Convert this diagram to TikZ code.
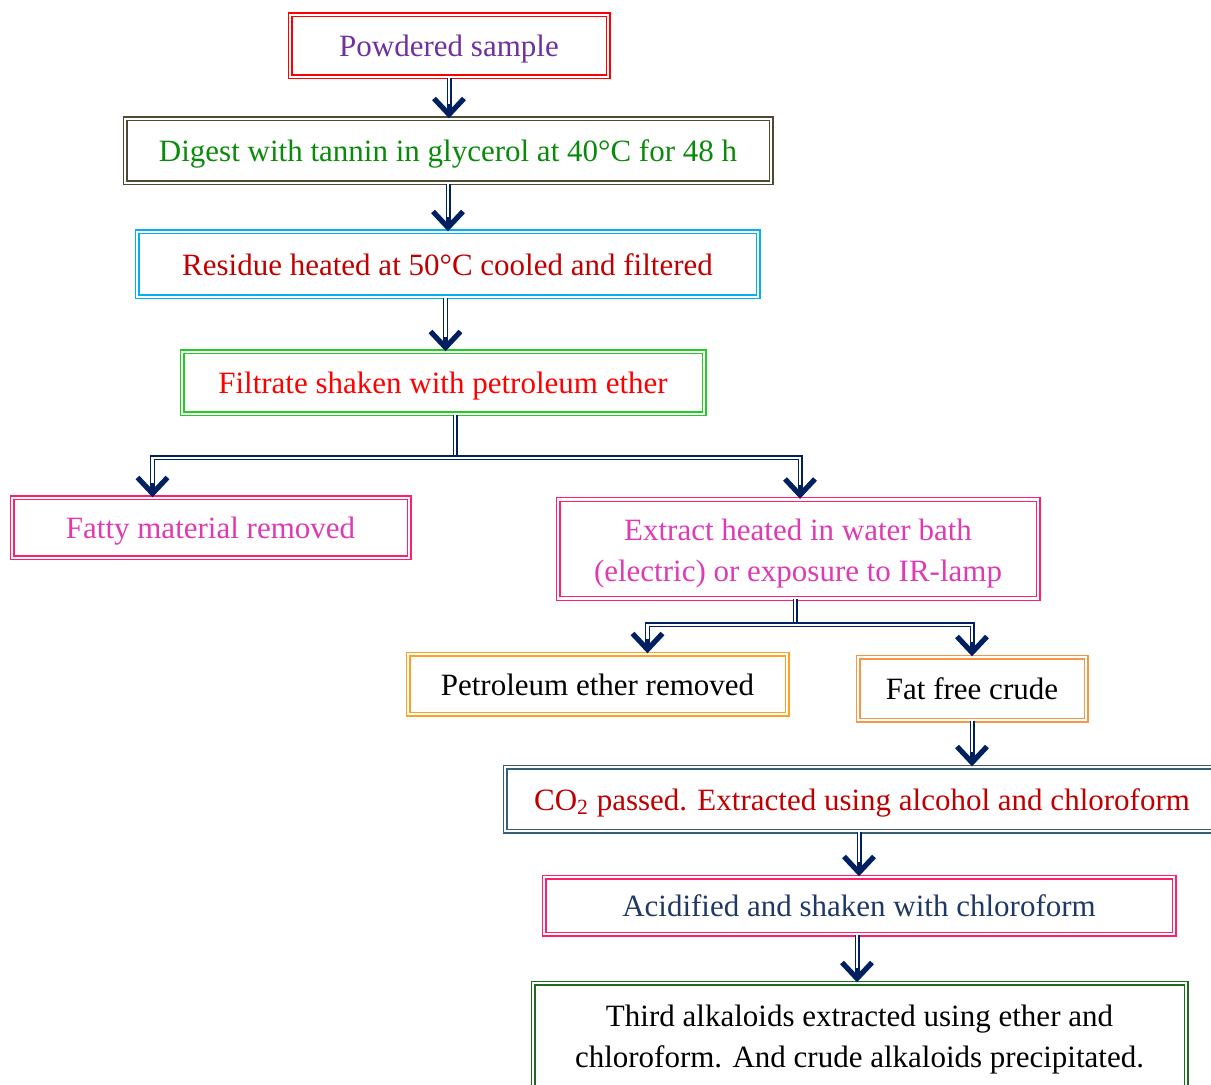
\documentclass[tikz,border=0pt]{standalone}
\usepackage{fontspec}
\setmainfont{Liberation Serif}
\usetikzlibrary{arrows.meta, positioning, calc}

\definecolor{arrowblue}{HTML}{002060}
\definecolor{txtpurple}{HTML}{7030A0}
\definecolor{txtgreen}{HTML}{0A8A0A}
\definecolor{txtdarkred}{HTML}{C00000}
\definecolor{txtmagenta}{HTML}{DE3AB4}
\definecolor{txtnavy}{HTML}{1F3864}
\definecolor{lnolive}{HTML}{4F4A32}
\definecolor{lnsky}{HTML}{00B0F0}
\definecolor{lngreen}{HTML}{22CC22}
\definecolor{lnpink}{HTML}{FF1F6E}
\definecolor{lnorange}{HTML}{FFA020}
\definecolor{lnpeach}{HTML}{F79646}
\definecolor{lnteal}{HTML}{3A6078}
\definecolor{lndkgreen}{HTML}{1E6B1E}

\begin{document}
\begin{tikzpicture}[x=0.5pt, y=-0.5pt,
    box/.style={draw, line width=0.7pt, double=white, double distance=1.1pt,
        inner sep=0pt, align=center, text height=12.5pt, text depth=1.5pt,
        font=\fontsize{15.5}{20.5}\selectfont},
    link/.style={draw=arrowblue, line width=2.5pt, postaction={draw=white, line width=1.1pt}},
    flow/.style={draw=arrowblue, line width=2.5pt,
        -{Straight Barb[length=8pt, width=15pt, line width=2.6pt]},
        postaction={draw=white, line width=1.1pt, arrows=-, shorten >=7pt}}]

        \clip (0, 0) rectangle (1211, 1085);

        % Main column
        \node[box, draw=red, text=txtpurple, minimum width=159pt, minimum height=31pt]
            (powder) at (449, 46) {Powdered sample};
        \node[box, draw=lnolive, text=txtgreen, minimum width=323pt, minimum height=32pt]
            (digest) at (448, 151) {Digest with tannin in glycerol at 40°C for 48 h};
        \node[box, draw=lnsky, text=txtdarkred, minimum width=310.5pt, minimum height=32.5pt]
            (residue) at (447.5, 264.5) {Residue heated at 50°C cooled and filtered};
        \node[box, draw=lngreen, text=red, minimum width=261pt, minimum height=31pt]
            (filtrate) at (443, 383) {Filtrate shaken with petroleum ether};

        % First split
        \node[box, draw=lnpink, text=txtmagenta, minimum width=198.5pt, minimum height=30pt]
            (fatty) at (210.5, 528) {Fatty material removed};
        \node[box, draw=lnpink, text=txtmagenta, minimum width=240pt, minimum height=49.5pt,
            text height=, text depth=]
            (extract) at (798, 549) {\rule{0pt}{15pt}Extract heated in water bath\\(electric) or exposure to IR-lamp};

        % Second split
        \node[box, draw=lnorange, minimum width=189.5pt, minimum height=30pt]
            (petrol) at (597.5, 684) {Petroleum ether removed};
        \node[box, draw=lnpeach, minimum width=114pt, minimum height=31.5pt]
            (fatfree) at (972, 688.5) {Fat free crude};

        % Lower column
        \node[box, draw=lnteal, text=txtdarkred, minimum width=357pt, minimum height=32pt]
            (carbon) at (862, 799) {CO\textsubscript{2} passed. Extracted using alcohol and chloroform};
        \node[box, draw=lnpink, text=txtnavy, minimum width=315pt, minimum height=28.5pt]
            (acid) at (859, 905.5) {Acidified and shaken with chloroform};
        \node[box, draw=lndkgreen, minimum width=326.5pt, minimum height=55pt,
            text height=, text depth=]
            (third) at (859.5, 1038) {\rule{0pt}{12.5pt}Third alkaloids extracted using ether and\\chloroform. And crude alkaloids precipitated.};

        % Arrows
        \draw[flow] (powder.south) -- (powder.south |- digest.north);
        \draw[flow] (digest.south) -- (digest.south |- residue.north);
        \draw[flow] ([xshift=-1pt]residue.south) -- ([xshift=-1pt]residue.south |- filtrate.north);

        \coordinate (split1) at (455, 458);
        \draw[link] (filtrate.south -| split1) -- (split1);
        \draw[flow] (split1) -| ([xshift=-29pt]fatty.north);
        \draw[flow] (split1) -| ([xshift=1pt]extract.north);

        \coordinate (split2) at (795, 625);
        \draw[link] (extract.south -| split2) -- (split2);
        \draw[flow] (split2) -| ([xshift=25pt]petrol.north);
        \draw[flow] (split2) -| (fatfree.north);

        \draw[flow] (fatfree.south) -- (fatfree.south |- carbon.north);
        \draw[flow] (carbon.south -| acid.north) -- (acid.north);
        \draw[flow] ([xshift=-1pt]acid.south) -- ([xshift=-1pt]acid.south |- third.north);

\end{tikzpicture}
\end{document}
